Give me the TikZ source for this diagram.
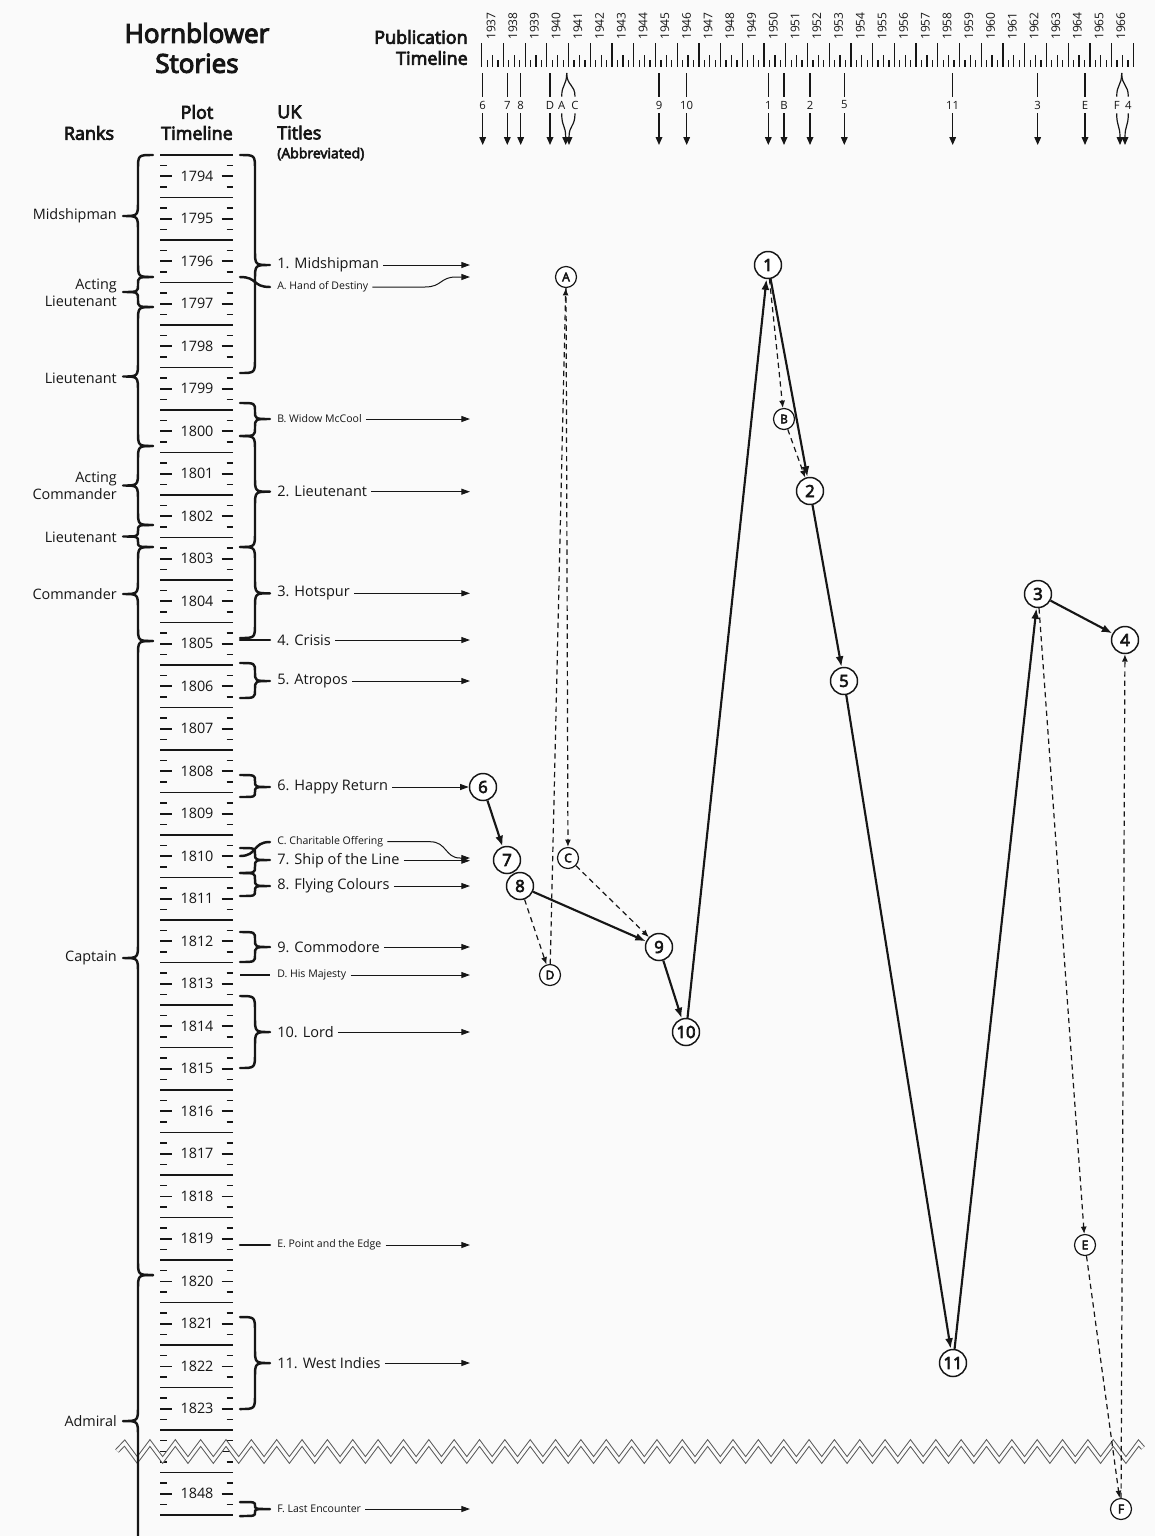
\documentclass[tikz,border=0pt]{standalone}
\usepackage{fontspec}
\setmainfont{Open Sans}[AutoFakeBold=4.2]
\usetikzlibrary{arrows.meta}
\definecolor{bgc}{RGB}{250,250,250}
\definecolor{ink}{RGB}{22,22,22}
\definecolor{zigc}{RGB}{90,90,90}

\tikzset{
  tickln/.style={line width=1.15pt, draw=ink},
  ptick/.style={line width=0.95pt, draw=ink},
  bracestyle/.style={line width=1.85pt, draw=ink, line cap=round, line join=round},
  yearlbl/.style={font=\fontsize{10.8}{12}\selectfont, inner sep=0, text=ink},
  ranklbl/.style={font=\fontsize{10.8}{12.5}\selectfont, align=right, anchor=east, inner sep=0, text=ink},
  titlelbl/.style={font=\fontsize{10.9}{13}\selectfont, anchor=west, inner sep=0, text=ink},
  shortlbl/.style={font=\fontsize{7.9}{10}\selectfont, anchor=west, inner sep=0, text=ink},
  pubyear/.style={font=\fontsize{9}{10}\selectfont, rotate=90, anchor=west, inner sep=0, text=ink},
  publbl/.style={font=\fontsize{8.5}{10}\selectfont, inner sep=3pt, text=ink},
  publine/.style={line width=0.9pt, draw=ink},
  pubarrow/.style={publine, -{Triangle[length=6pt,width=5pt]}},
  titlearrow/.style={line width=0.75pt, draw=ink, -{Triangle[length=6.5pt,width=4.5pt]}},
  bigstory/.style={circle, draw=ink, fill=white, line width=1.1pt, minimum size=20.25pt, inner sep=0, font=\fontsize{12.5}{14}\selectfont\bfseries, text=ink},
  smallstory/.style={circle, draw=ink, fill=white, line width=0.9pt, minimum size=15.75pt, inner sep=0, font=\fontsize{9}{10}\selectfont\bfseries, text=ink},
  solidedge/.style={line width=1.6pt, draw=ink, -{Latex[length=8pt,width=6pt]}},
  dashedge/.style={line width=0.9pt, draw=ink, dash pattern=on 4pt off 3pt, -{Latex[length=5.5pt,width=4.5pt]}},
  zig/.style={draw=zigc, line width=0.75pt, double=bgc, double distance=2.2pt, line join=miter},
  hdr/.style={font=\fontsize{13.5}{15.75}\selectfont\bfseries, inner sep=0, text=ink},
}

% brace: #1 extra style, #2 x of ends, #3 x of tip, #4 y top, #5 y tip, #6 y bottom
\newcommand{\mybrace}[6][]{%
  \pgfmathsetmacro\bxm{(#2+#3)/2}%
  \pgfmathsetmacro\bw{abs(#2-#3)/2}%
  \pgfmathsetmacro\bra{min(\bw,(#5-#4)/2)}%
  \pgfmathsetmacro\brb{min(\bw,(#6-#5)/2)}%
  \draw[bracestyle,#1] (#2,#4) .. controls (\bxm,#4) .. (\bxm,{#4+\bra}) -- (\bxm,{#5-\bra}) .. controls (\bxm,#5) .. (#3,#5) .. controls (\bxm,#5) .. (\bxm,{#5+\brb}) -- (\bxm,{#6-\brb}) .. controls (\bxm,#6) .. (#2,#6);%
}

% quarter ticks of one plot year starting at #1
\newcommand{\qticks}[1]{%
  \draw[tickln] (160,{#1+10.625}) -- (166.7,{#1+10.625}) (226.7,{#1+10.625}) -- (233.3,{#1+10.625})
    (160,{#1+21.25}) -- (171.7,{#1+21.25}) (221.7,{#1+21.25}) -- (233.3,{#1+21.25})
    (160,{#1+31.875}) -- (166.7,{#1+31.875}) (226.7,{#1+31.875}) -- (233.3,{#1+31.875});%
}

% publication arrow: name, x, label
\newcommand{\pubarr}[3]{%
  \node[publbl] (p#1) at (#2,105) {#3};%
  \coordinate (pt#1) at (#2,73);%
  \coordinate (pe#1) at (#2,145);%
  \draw[publine] (pt#1) -- (p#1.north);%
  \draw[pubarrow] (p#1.south) -- (pe#1);%
}

% title row: name, y, text, style
\newcommand{\titlerow}[4]{%
  \node[#4] (l#1) at (277,#2) {#3};%
  \coordinate (t#1) at (470,#2);%
  \draw[titlearrow] ([xshift=3pt]l#1.east) -- (t#1);%
}

\begin{document}
\begin{tikzpicture}[x=0.75pt,y=-0.75pt]
\fill[bgc] (0,0) rectangle (1155,1536);
\useasboundingbox (0,0) rectangle (1155,1536);

% ---------- headers ----------
\node[font=\fontsize{19.5}{22.5}\selectfont\bfseries, align=center, inner sep=0, text=ink] (title) at (197,48) {Hornblower\\Stories};
\node[hdr, align=right, anchor=east] (pubhdr) at (468,47.5) {Publication\\Timeline};
\node[hdr] (rankhdr) at (89,133) {Ranks};
\node[hdr, align=center] (plothdr) at (197,122.5) {Plot\\Timeline};
\node[hdr, align=left, anchor=west] (uktitles) at (277,122.5) {UK\\Titles};
\node[font=\fontsize{10.5}{12}\selectfont\bfseries, inner sep=0, anchor=west, text=ink] (abbr) at (277,154) {(Abbreviated)};

% ---------- publication timeline ----------
\foreach \k in {0,...,29}{
  \pgfmathsetmacro\xx{481.7+21.72*\k}
  \pgfmathtruncatemacro\yr{1937+\k}
  \draw[ptick] (\xx,43) -- (\xx,67);
  \draw[ptick] ({\xx+5.43},60) -- ({\xx+5.43},67) ({\xx+10.86},55) -- ({\xx+10.86},67) ({\xx+16.29},60) -- ({\xx+16.29},67);
  \node[pubyear] (py\yr) at ({\xx+9.3},40) {\yr};
}
\draw[ptick] (1133.3,43) -- (1133.3,67);

\pubarr{6}{482.7}{6}
\pubarr{7}{507.3}{7}
\pubarr{8}{520.7}{8}
\pubarr{D}{550}{D}
\pubarr{9}{659}{9}
\pubarr{10}{686.7}{10}
\pubarr{1}{768.3}{1}
\pubarr{B}{784}{B}
\pubarr{2}{810}{2}
\pubarr{5}{844.3}{5}
\pubarr{11}{952.7}{11}
\pubarr{3}{1037.7}{3}
\pubarr{E}{1085}{E}
% A and C fork
\node[publbl] (pA) at (561.7,105) {A};
\node[publbl] (pC) at (575,105) {C};
\coordinate (ptAC) at (566.7,73);
\coordinate (peA) at (565.7,145);
\coordinate (peC) at (569,145);
\draw[publine] (ptAC) .. controls (566.7,86) and (561.7,84) .. (pA.north);
\draw[publine] (ptAC) .. controls (566.7,86) and (575,84) .. (pC.north);
\draw[pubarrow] (pA.south) .. controls (561.7,127) and (565.7,125) .. (peA);
\draw[pubarrow] (pC.south) .. controls (575,127) and (569,125) .. (peC);
% F and 4 fork
\node[publbl] (pF) at (1116.7,105) {F};
\node[publbl] (p4) at (1128.3,105) {4};
\coordinate (ptF4) at (1121.7,73);
\coordinate (peF) at (1120,145);
\coordinate (pe4) at (1125,145);
\draw[publine] (ptF4) .. controls (1121.7,86) and (1116.7,84) .. (pF.north);
\draw[publine] (ptF4) .. controls (1121.7,86) and (1128.3,84) .. (p4.north);
\draw[pubarrow] (pF.south) .. controls (1116.7,127) and (1120,125) .. (peF);
\draw[pubarrow] (p4.south) .. controls (1128.3,127) and (1125,125) .. (pe4);

% ---------- plot timeline ----------
\foreach \k in {0,...,29}{
  \pgfmathsetmacro\yy{155+42.5*\k}
  \pgfmathtruncatemacro\yr{1794+\k}
  \draw[tickln] (160,\yy) -- (233.3,\yy);
  \qticks{\yy}
  \node[yearlbl] (yr\yr) at (197,{\yy+21.25}) {\yr};
}
\draw[tickln] (160,1430) -- (233.3,1430);
\qticks{1430}
\draw[tickln] (160,1472.5) -- (233.3,1472.5);
\qticks{1472.5}
\node[yearlbl] (yr1848) at (197,1493.75) {1848};
\draw[tickln] (160,1515) -- (233.3,1515);

% ---------- break ----------
\draw[zig] (117,1451) \foreach \k in {0,...,39}{ -- ({124.6+25.35*\k},1443) -- ({137.275+25.35*\k},1460) } -- (1138.6,1443) -- (1143,1448);

% ---------- ranks ----------
\mybrace{153}{123}{155}{216}{277}
\mybrace{153}{123}{277}{292}{307}
\mybrace{153}{123}{307}{376.5}{446}
\mybrace{153}{123}{446}{485.5}{525}
\mybrace{153}{123}{525}{536.5}{547}
\mybrace{153}{123}{547}{594}{641}
\mybrace{153}{123}{641}{958}{1275}
\mybrace{153}{123}{1275}{1421}{1567}
\node[ranklbl] (rMid) at (117,216) {Midshipman};
\node[ranklbl] (rALt) at (117,293) {Acting\\Lieutenant};
\node[ranklbl] (rLt1) at (117,378) {Lieutenant};
\node[ranklbl] (rACm) at (117,486) {Acting\\Commander};
\node[ranklbl] (rLt2) at (117,537) {Lieutenant};
\node[ranklbl] (rCmd) at (117,594) {Commander};
\node[ranklbl] (rCap) at (117,958) {Captain};
\node[ranklbl] (rAdm) at (117,1421) {Admiral};

% ---------- title braces ----------
\mybrace{240}{270}{155}{265}{373}
\draw[bracestyle] (240,277) .. controls (258,277) and (252,287) .. (270,287);
\mybrace{240}{270}{403}{419}{436}
\mybrace{240}{270}{436}{491.7}{547}
\mybrace{240}{270}{547}{593.3}{638}
\draw[bracestyle] (240,640) -- (270,640);
\mybrace{240}{270}{663}{681}{698}
\mybrace{240}{270}{775}{787}{797}
\draw[bracestyle] (240,856) .. controls (258,856) and (252,842) .. (270,842);
\mybrace{240}{270}{848}{860}{873}
\mybrace{240}{270}{873}{886}{896}
\mybrace{240}{270}{932}{947}{962}
\draw[line width=0.9pt, draw=ink] (240,975) -- (270,975);
\mybrace{240}{270}{996}{1032}{1068}
\draw[bracestyle] (240,1245) -- (270,1245);
\mybrace{240}{270}{1317}{1363}{1409}
\mybrace{240}{270}{1502}{1509}{1516}

% ---------- story nodes ----------
\node[bigstory] (n1) at (768,265) {1};
\node[bigstory] (n2) at (810,491) {2};
\node[bigstory] (n3) at (1038,594) {3};
\node[bigstory] (n4) at (1125,640) {4};
\node[bigstory] (n5) at (844,681) {5};
\node[bigstory] (n6) at (483,787) {6};
\node[bigstory] (n7) at (507,860) {7};
\node[bigstory] (n8) at (520,886) {8};
\node[bigstory] (n9) at (659,947) {9};
\node[bigstory] (n10) at (686,1032) {10};
\node[bigstory] (n11) at (953,1363) {11};
\node[smallstory] (nA) at (566,277) {A};
\node[smallstory] (nB) at (784,419) {B};
\node[smallstory] (nC) at (568,858) {C};
\node[smallstory] (nD) at (550,975) {D};
\node[smallstory] (nE) at (1085,1245) {E};
\node[smallstory] (nF) at (1121,1509) {F};

% ---------- title labels ----------
\titlerow{1}{265}{1. Midshipman}{titlelbl}
\node[shortlbl] (lA) at (277,287) {A. Hand of Destiny};
\coordinate (tA) at (470,277);
\draw[titlearrow] ([xshift=3pt]lA.east) -- (425,287) .. controls (442,287) and (440,277) .. (456,277) -- (tA);
\titlerow{B}{419}{B. Widow McCool}{shortlbl}
\titlerow{2}{491.7}{2. Lieutenant}{titlelbl}
\titlerow{3}{593.3}{3. Hotspur}{titlelbl}
\titlerow{4}{640}{4. Crisis}{titlelbl}
\titlerow{5}{681}{5. Atropos}{titlelbl}
\node[titlelbl] (l6) at (277,787) {6. Happy Return};
\draw[titlearrow] ([xshift=3pt]l6.east) -- (n6.west);
\node[shortlbl] (lC) at (277,841.7) {C. Charitable Offering};
\coordinate (tC) at (470,858);
\draw[titlearrow] ([xshift=3pt]lC.east) -- (430,841.7) .. controls (447,841.7) and (445,858) .. (460,858) -- (tC);
\titlerow{7}{860.7}{7. Ship of the Line}{titlelbl}
\titlerow{8}{886}{8. Flying Colours}{titlelbl}
\titlerow{9}{947}{9. Commodore}{titlelbl}
\titlerow{D}{975}{D. His Majesty}{shortlbl}
\titlerow{10}{1032}{10. Lord}{titlelbl}
\titlerow{E}{1245}{E. Point and the Edge}{shortlbl}
\titlerow{11}{1363}{11. West Indies}{titlelbl}
\titlerow{F}{1509}{F. Last Encounter}{shortlbl}

% ---------- reading order edges ----------
\draw[solidedge] (n6) -- (n7);
\draw[solidedge] (n8) -- (n9);
\draw[solidedge] (n9) -- (n10);
\draw[solidedge] (n10) -- (n1);
\draw[solidedge] (n1) -- (n2);
\draw[solidedge] (n2) -- (n5);
\draw[solidedge] (n5) -- (n11);
\draw[solidedge] (n11) -- (n3);
\draw[solidedge] (n3) -- (n4);
\draw[dashedge] (n8) -- (nD);
\draw[dashedge] (nD) -- (nA);
\draw[dashedge] (nA) -- (nC);
\draw[dashedge] (nC) -- (n9);
\draw[dashedge] (n1) -- (nB);
\draw[dashedge] (nB) -- (n2);
\draw[dashedge] (n3) -- (nE);
\draw[dashedge] (nE) -- (nF);
\draw[dashedge] (nF) -- (n4);
\end{tikzpicture}
\end{document}
